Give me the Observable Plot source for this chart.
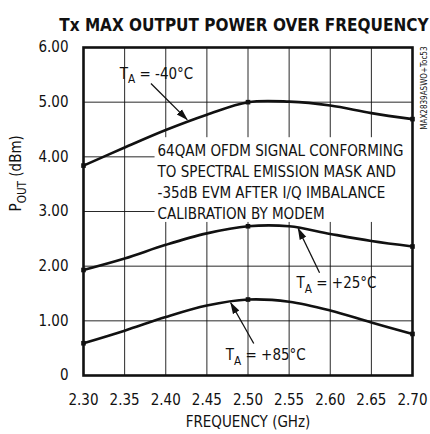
<!DOCTYPE html>
<html><head><meta charset="utf-8">
<script src="https://cdn.jsdelivr.net/npm/d3@7"></script>
<script src="https://cdn.jsdelivr.net/npm/@observablehq/plot@0.6"></script>
<style>
body{margin:0;background:#fff}
#chart svg{font-family:"Liberation Sans Narrow","Arial Narrow","DejaVu Sans Condensed",sans-serif;font-stretch:condensed;color:#111;overflow:visible}
</style>
</head><body><div id="chart"></div>
<script>
// ---- data ----
const freqs = [2.30, 2.35, 2.40, 2.45, 2.50, 2.55, 2.60, 2.65, 2.70];
const powerM40 = [3.84, 4.17, 4.49, 4.77, 5.00, 5.01, 4.94, 4.80, 4.69];
const power25  = [1.93, 2.14, 2.39, 2.60, 2.73, 2.73, 2.59, 2.46, 2.36];
const power85  = [0.59, 0.82, 1.07, 1.28, 1.39, 1.35, 1.19, 0.97, 0.76];
const markerFreqs = [2.30, 2.50, 2.70];
const xTicks = [2.30, 2.35, 2.40, 2.45, 2.50, 2.55, 2.60, 2.65, 2.70];
const yTicks = [0, 1, 2, 3, 4, 5, 6];
const yTickLabels = ["0", "1.00", "2.00", "3.00", "4.00", "5.00", "6.00"];
const titleText = "Tx MAX OUTPUT POWER OVER FREQUENCY";
const xLabel = "FREQUENCY (GHz)";
const yLabel = "P{OUT} (dBm)";
const sideText = "MAX2839ASWO+Toc53";
const noteLines = ["64QAM OFDM SIGNAL CONFORMING", "TO SPECTRAL EMISSION MASK AND", "-35dB EVM AFTER I/Q IMBALANCE", "CALIBRATION BY MODEM"];
const seriesNames = ["T{A} = -40°C", "T{A} = +25°C", "T{A} = +85°C"];
const labelPos = [{x: 2.344, y: 5.52}, {x: 2.559, y: 1.68}, {x: 2.473, y: 0.37}];
const arrowPos = [
  {x1: 2.382, y1: 5.34, x2: 2.426, y2: 4.68},
  {x1: 2.587, y1: 1.88, x2: 2.561, y2: 2.69},
  {x1: 2.507, y1: 0.585, x2: 2.479, y2: 1.33}
];
const noteBox = {x1: 2.387, x2: 2.70, y1: 2.80, y2: 4.35, x: 2.390, y: 3.57};

// ---- build ----
const seriesVals = [powerM40, power25, power85];
const rows = seriesVals.flatMap((vals, s) => freqs.map((f, i) => ({series: seriesNames[s], f, p: vals[i]})));
const markers = rows.filter(d => markerFreqs.includes(d.f));
const labels = seriesNames.map((t, i) => ({t, ...labelPos[i]}));

const chart = Plot.plot({
  width: 430, height: 434,
  marginLeft: 83, marginRight: 18, marginTop: 47, marginBottom: 59,
  style: {fontSize: "15px", background: "#fff"},
  x: {domain: [2.30, 2.70]},
  y: {domain: [0, 6]},
  marks: [
    Plot.gridX(xTicks, {stroke: "#111", strokeOpacity: 1, strokeWidth: 0.9}),
    Plot.gridY(yTicks, {stroke: "#111", strokeOpacity: 1, strokeWidth: 0.9}),
    Plot.rect([noteBox], {x1: "x1", x2: "x2", y1: "y1", y2: "y2", fill: "#fff"}),
    Plot.line(rows, {x: "f", y: "p", z: "series", stroke: "#111", strokeWidth: 2.6, curve: "catmull-rom"}),
    Plot.dot(markers, {x: "f", y: "p", symbol: "square", r: 2.6, fill: "#111"}),
    Plot.text([noteBox], {x: "x", y: "y", text: () => noteLines.join("\n"), textAnchor: "start", lineAnchor: "middle", lineHeight: 1.4, fontSize: 15, fill: "#111"}),
    Plot.text(labels, {x: "x", y: "y", text: "t", textAnchor: "start", fontSize: 15, fill: "#111"}),
    Plot.link(arrowPos, {x1: "x1", y1: "y1", x2: "x2", y2: "y2", stroke: "#111", strokeWidth: 1.3, markerEnd: "arrow"}),
    Plot.axisX(xTicks, {tickSize: 0, tickPadding: 19, tickFormat: d => d.toFixed(2), label: null, fontSize: 15, fill: "#111"}),
    Plot.axisY(yTicks, {tickSize: 0, tickPadding: 15, tickFormat: d => yTickLabels[yTicks.indexOf(d)], label: null, fontSize: 15, fill: "#111"}),
    Plot.text([xLabel], {frameAnchor: "bottom", dy: 51, fontSize: 15, fill: "#111"}),
    Plot.text([yLabel], {frameAnchor: "left", dx: -67, rotate: -90, fontSize: 15, fill: "#111"}),
    Plot.text([titleText], {frameAnchor: "top-right", textAnchor: "end", dx: 16, dy: -29, fontSize: 17, fontWeight: "bold", fill: "#111"}),
    Plot.text([sideText], {frameAnchor: "top-right", textAnchor: "end", rotate: -90, dx: 9, dy: -1, fontSize: 8, fill: "#111"}),
    Plot.frame({stroke: "#111", strokeWidth: 2.6})
  ]
});

// subscripts: "X{sub}rest"
d3.select(chart).selectAll("text").each(function() {
  const t = this.textContent;
  const m = t.match(/^(.*?)\{(.*?)\}(.*)$/);
  if (!m || this.children.length) return;
  const sel = d3.select(this);
  const fs = parseFloat(sel.attr("font-size")) || 15;
  sel.text(null);
  sel.append("tspan").text(m[1]);
  sel.append("tspan").attr("dy", fs * 0.3).attr("font-size", fs * 0.78).text(m[2]);
  sel.append("tspan").attr("dy", -fs * 0.3).text(m[3]);
});
// filled arrowheads
d3.select(chart).selectAll("marker").each(function() {
  const mk = d3.select(this);
  mk.attr("viewBox", "-11 -5 12 10").attr("markerWidth", 12).attr("markerHeight", 10)
    .attr("markerUnits", "userSpaceOnUse").attr("refX", 0).attr("refY", 0)
    .attr("fill", "#111").attr("stroke", "none");
  mk.selectAll("*").remove();
  mk.append("path").attr("d", "M-11,-3.6L1,0L-11,3.6Z");
});
document.getElementById("chart").append(chart);
</script>
</body></html>
